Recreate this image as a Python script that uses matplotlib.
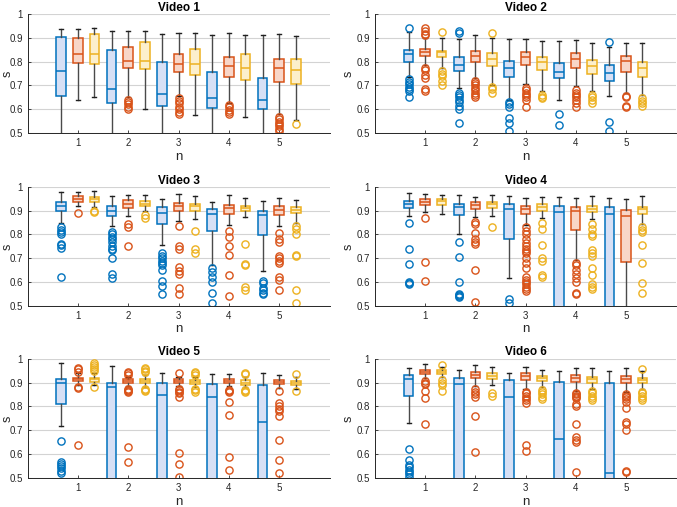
import matplotlib
matplotlib.use('Agg')
import matplotlib.pyplot as plt

plt.rcParams['font.family'] = ['Liberation Sans', 'DejaVu Sans']

# ---------------- data: each box = [whisker_low, q1, median, q3, whisker_high] -------------
n_values = [1, 2, 3, 4, 5]
titles = ['Video 1', 'Video 2', 'Video 3', 'Video 4', 'Video 5', 'Video 6']
ytick_values = [0.5, 0.6, 0.7, 0.8, 0.9, 1.0]
ytick_labels = ['0.5', '0.6', '0.7', '0.8', '0.9', '1']

v1_blue = [[0.45, 0.656, 0.761, 0.905, 0.937], [0.45, 0.624, 0.684, 0.848, 0.930],
           [0.45, 0.612, 0.665, 0.797, 0.915], [0.45, 0.607, 0.647, 0.757, 0.913],
           [0.45, 0.600, 0.637, 0.730, 0.913]]
v1_red = [[0.640, 0.793, 0.830, 0.900, 0.937], [0.650, 0.772, 0.804, 0.863, 0.930],
          [0.656, 0.756, 0.789, 0.831, 0.920], [0.626, 0.737, 0.781, 0.818, 0.920],
          [0.580, 0.714, 0.772, 0.813, 0.916]]
v1_yel = [[0.650, 0.790, 0.830, 0.918, 0.940], [0.600, 0.771, 0.804, 0.884, 0.930],
          [0.577, 0.743, 0.788, 0.855, 0.920], [0.566, 0.723, 0.775, 0.831, 0.913],
          [0.556, 0.705, 0.763, 0.813, 0.908]]
v1_blue_out = [[], [], [], [], []]
v1_red_out = [[], [0.64, 0.63, 0.62, 0.61, 0.60], [0.645, 0.635, 0.625, 0.61, 0.60, 0.59, 0.58],
              [0.618, 0.608, 0.598, 0.588, 0.578], [0.568, 0.558, 0.548, 0.538, 0.528, 0.518, 0.51]]
v1_yel_out = [[], [], [], [], [0.539]]

v2_blue = [[0.735, 0.800, 0.831, 0.850, 0.923], [0.689, 0.761, 0.785, 0.818, 0.894],
           [0.640, 0.737, 0.772, 0.804, 0.894], [0.640, 0.729, 0.757, 0.796, 0.888],
           [0.654, 0.720, 0.753, 0.785, 0.863]]
v2_red = [[0.785, 0.824, 0.840, 0.852, 0.900], [0.730, 0.799, 0.824, 0.845, 0.912],
          [0.705, 0.786, 0.821, 0.839, 0.895], [0.696, 0.775, 0.810, 0.835, 0.890],
          [0.668, 0.758, 0.804, 0.825, 0.880]]
v2_yel = [[0.772, 0.818, 0.840, 0.846, 0.900], [0.703, 0.782, 0.813, 0.838, 0.898],
          [0.675, 0.763, 0.800, 0.821, 0.885], [0.675, 0.749, 0.780, 0.807, 0.880],
          [0.660, 0.735, 0.772, 0.799, 0.877]]
v2_blue_out = [[0.94, 0.725, 0.715, 0.705, 0.695, 0.685, 0.675, 0.652],
               [0.93, 0.919, 0.67, 0.66, 0.65, 0.64, 0.63, 0.615, 0.60, 0.54],
               [0.63, 0.62, 0.61, 0.565, 0.54, 0.51], [0.58, 0.535], [0.884, 0.545, 0.51]]
v2_red_out = [[0.94, 0.93, 0.915, 0.91, 0.775, 0.765, 0.745, 0.73, 0.685, 0.675],
              [0.72, 0.71, 0.70, 0.69, 0.68, 0.67, 0.66, 0.65],
              [0.69, 0.68, 0.67, 0.66, 0.65, 0.64, 0.61],
              [0.68, 0.67, 0.66, 0.65, 0.64, 0.625, 0.61], [0.655, 0.65, 0.615, 0.61]]
v2_yel_out = [[0.926, 0.76, 0.75, 0.74, 0.72, 0.70], [0.92, 0.695, 0.685, 0.668],
              [0.66, 0.65, 0.645], [0.66, 0.65, 0.64, 0.625], [0.645, 0.635, 0.625, 0.615]]

v3_blue = [[0.848, 0.900, 0.920, 0.937, 0.980], [0.834, 0.879, 0.900, 0.918, 0.963],
           [0.756, 0.844, 0.890, 0.914, 0.950], [0.670, 0.813, 0.885, 0.907, 0.937],
           [0.646, 0.796, 0.883, 0.900, 0.940]]
v3_red = [[0.920, 0.937, 0.950, 0.960, 0.980], [0.876, 0.911, 0.930, 0.946, 0.968],
          [0.855, 0.897, 0.918, 0.932, 0.969], [0.840, 0.886, 0.911, 0.925, 0.968],
          [0.834, 0.880, 0.903, 0.918, 0.954]]
v3_yel = [[0.915, 0.937, 0.950, 0.958, 0.985], [0.897, 0.918, 0.930, 0.940, 0.968],
          [0.865, 0.900, 0.918, 0.930, 0.963], [0.873, 0.897, 0.911, 0.920, 0.954],
          [0.848, 0.890, 0.904, 0.915, 0.945]]
v3_blue_out = [[0.83, 0.82, 0.81, 0.80, 0.76, 0.755, 0.745, 0.62],
               [0.81, 0.80, 0.79, 0.78, 0.77, 0.75, 0.74, 0.735, 0.70, 0.635, 0.615],
               [0.72, 0.71, 0.70, 0.69, 0.68, 0.67, 0.65, 0.605, 0.585, 0.55],
               [0.66, 0.64, 0.62, 0.60, 0.555, 0.51],
               [0.605, 0.595, 0.575, 0.565, 0.555, 0.55]]
v3_red_out = [[0.89], [0.845, 0.83, 0.75], [0.835, 0.75, 0.74, 0.665, 0.645, 0.635, 0.575, 0.55],
              [0.815, 0.79, 0.75, 0.715, 0.63, 0.54],
              [0.805, 0.78, 0.77, 0.71, 0.70, 0.69, 0.68, 0.62, 0.61, 0.565]]
v3_yel_out = [[0.898, 0.895], [0.88, 0.87], [0.815, 0.74, 0.72], [0.76, 0.675, 0.67, 0.58, 0.565],
              [0.835, 0.825, 0.80, 0.715, 0.71, 0.565, 0.51]]

v4_blue = [[0.878, 0.912, 0.927, 0.943, 0.975], [0.804, 0.881, 0.915, 0.930, 0.965],
           [0.618, 0.783, 0.906, 0.927, 0.962], [0.35, 0.40, 0.895, 0.922, 0.958],
           [0.35, 0.40, 0.885, 0.916, 0.955]]
v4_red = [[0.895, 0.923, 0.937, 0.950, 0.969], [0.874, 0.906, 0.924, 0.937, 0.958],
          [0.842, 0.888, 0.909, 0.920, 0.955], [0.692, 0.820, 0.899, 0.915, 0.954],
          [0.35, 0.682, 0.877, 0.905, 0.948]]
v4_yel = [[0.888, 0.926, 0.940, 0.950, 0.968], [0.878, 0.912, 0.927, 0.937, 0.968],
          [0.871, 0.899, 0.916, 0.927, 0.958], [0.867, 0.895, 0.909, 0.920, 0.962],
          [0.846, 0.885, 0.908, 0.917, 0.962]]
v4_blue_out = [[0.848, 0.74, 0.675, 0.60, 0.595, 0.59],
               [0.77, 0.705, 0.60, 0.55, 0.545, 0.54, 0.535], [0.53, 0.51], [], []]
v4_red_out = [[0.87, 0.685, 0.605], [0.853, 0.845, 0.805, 0.78, 0.77, 0.76, 0.65, 0.515],
              [0.83, 0.815, 0.80, 0.78, 0.765, 0.75, 0.74, 0.73, 0.72, 0.70, 0.68, 0.66,
               0.62, 0.61, 0.60, 0.59, 0.58, 0.57, 0.56],
              [0.68, 0.67, 0.65, 0.635, 0.615, 0.60, 0.555, 0.55], []]
v4_yel_out = [[], [0.83], [0.848, 0.825, 0.755, 0.70, 0.69, 0.63, 0.62],
              [0.845, 0.825, 0.80, 0.795, 0.735, 0.72, 0.71, 0.66, 0.63, 0.59, 0.58, 0.57],
              [0.83, 0.82, 0.81, 0.755, 0.68, 0.595, 0.555]]

v5_blue = [[0.720, 0.811, 0.900, 0.913, 0.980], [0.35, 0.40, 0.880, 0.900, 0.970],
           [0.35, 0.40, 0.848, 0.897, 0.940], [0.35, 0.40, 0.838, 0.892, 0.937],
           [0.35, 0.40, 0.736, 0.890, 0.940]]
v5_red = [[0.890, 0.906, 0.915, 0.920, 0.940], [0.885, 0.900, 0.908, 0.915, 0.925],
          [0.885, 0.897, 0.906, 0.913, 0.925], [0.885, 0.897, 0.906, 0.913, 0.936],
          [0.876, 0.894, 0.904, 0.910, 0.933]]
v5_yel = [[0.890, 0.904, 0.913, 0.920, 0.940], [0.882, 0.897, 0.906, 0.913, 0.930],
          [0.880, 0.894, 0.902, 0.910, 0.925], [0.880, 0.891, 0.900, 0.910, 0.925],
          [0.874, 0.890, 0.900, 0.908, 0.925]]
v5_blue_out = [[0.655, 0.565, 0.56, 0.55, 0.54, 0.53, 0.52], [], [], [], []]
v5_red_out = [[0.96, 0.955, 0.945, 0.88, 0.878, 0.64],
              [0.945, 0.94, 0.93, 0.875, 0.87, 0.865, 0.86, 0.63, 0.565],
              [0.94, 0.875, 0.87, 0.86, 0.855, 0.84, 0.605, 0.56, 0.505],
              [0.87, 0.865, 0.86, 0.82, 0.765, 0.59, 0.535],
              [0.865, 0.815, 0.80, 0.79, 0.78, 0.76, 0.66, 0.575, 0.52]]
v5_yel_out = [[0.98, 0.975, 0.965, 0.955, 0.95, 0.88], [0.96, 0.955, 0.95, 0.945, 0.875, 0.87, 0.865],
              [0.945, 0.94, 0.93, 0.875, 0.87, 0.86], [0.94, 0.935, 0.87, 0.865, 0.86],
              [0.935, 0.865]]

v6_blue = [[0.732, 0.844, 0.915, 0.930, 0.962], [0.35, 0.40, 0.893, 0.918, 0.954],
           [0.35, 0.40, 0.838, 0.910, 0.940], [0.35, 0.40, 0.662, 0.904, 0.947],
           [0.35, 0.40, 0.522, 0.900, 0.950]]
v6_red = [[0.918, 0.936, 0.945, 0.954, 0.976], [0.885, 0.920, 0.933, 0.944, 0.972],
          [0.875, 0.911, 0.929, 0.941, 0.966], [0.865, 0.904, 0.920, 0.932, 0.962],
          [0.860, 0.897, 0.913, 0.927, 0.962]]
v6_yel = [[0.925, 0.937, 0.945, 0.953, 0.965], [0.890, 0.916, 0.929, 0.939, 0.966],
          [0.883, 0.908, 0.920, 0.929, 0.953], [0.875, 0.900, 0.913, 0.925, 0.960],
          [0.875, 0.900, 0.911, 0.920, 0.950]]
v6_blue_out = [[0.62, 0.575, 0.555, 0.545, 0.535, 0.525, 0.515, 0.505], [], [], [], []]
v6_red_out = [[0.905, 0.90, 0.895, 0.865, 0.835, 0.725], [0.875, 0.86, 0.85, 0.84, 0.76, 0.61],
              [0.86, 0.855, 0.845, 0.835, 0.825, 0.815, 0.64, 0.615],
              [0.855, 0.85, 0.845, 0.84, 0.835, 0.81, 0.80, 0.725, 0.67, 0.66, 0.65, 0.525],
              [0.85, 0.845, 0.84, 0.83, 0.82, 0.795, 0.735, 0.725, 0.70, 0.53, 0.525]]
v6_yel_out = [[0.975, 0.91, 0.90, 0.89, 0.865], [0.855, 0.845], [0.87, 0.86, 0.85, 0.84, 0.83],
              [0.865, 0.855, 0.845, 0.835, 0.825], [0.955, 0.86, 0.855, 0.845, 0.835, 0.825]]

# ---------------- styling ----------------
series_colors = ['#0072BD', '#D95319', '#EDB120']
series_faces = ['#d7e0f5', '#f8d6c8', '#fcefcc']
offsets = [-0.33, 0.0, 0.33]

panels = [
    (v1_blue, v1_red, v1_yel, v1_blue_out, v1_red_out, v1_yel_out),
    (v2_blue, v2_red, v2_yel, v2_blue_out, v2_red_out, v2_yel_out),
    (v3_blue, v3_red, v3_yel, v3_blue_out, v3_red_out, v3_yel_out),
    (v4_blue, v4_red, v4_yel, v4_blue_out, v4_red_out, v4_yel_out),
    (v5_blue, v5_red, v5_yel, v5_blue_out, v5_red_out, v5_yel_out),
    (v6_blue, v6_red, v6_yel, v6_blue_out, v6_red_out, v6_yel_out),
]

W, H = 677, 507
fig = plt.figure(figsize=(W / 100, H / 100), dpi=100)

col_x = [(27.5, 329.5), (375.0, 676.0)]
row_y = [(14.0, 133.0), (187.0, 305.7), (358.7, 478.0)]
ylabel_px = [13.5, 355.0]   # right edge of the rotated y label (pixels)

axis_col = '#262626'

for k, panel in enumerate(panels):
    r, c = divmod(k, 2)
    x0, x1 = col_x[c]
    y0, y1 = row_y[r]
    ax = fig.add_axes([x0 / W, 1 - y1 / H, (x1 - x0) / W, (y1 - y0) / H])
    boxes = panel[:3]
    outs = panel[3:]
    for s in range(3):
        stats = []
        for b, o in zip(boxes[s], outs[s]):
            stats.append(dict(whislo=b[0], q1=b[1], med=b[2], q3=b[3], whishi=b[4], fliers=o))
        ax.bxp(stats, positions=[n + offsets[s] for n in n_values], widths=0.19,
               patch_artist=True, showfliers=True, manage_ticks=False,
               boxprops=dict(facecolor=series_faces[s], edgecolor=series_colors[s], linewidth=1.1),
               medianprops=dict(color=series_colors[s], linewidth=1.1),
               whiskerprops=dict(color='#4a4a4a', linewidth=1.0),
               capprops=dict(color='#202020', linewidth=1.0), capwidths=0.08,
               flierprops=dict(marker='o', markerfacecolor='none',
                               markeredgecolor=series_colors[s], markersize=5.2,
                               markeredgewidth=1.0))
    ax.set_xlim(0, 6)
    ax.set_ylim(0.5, 1.0)
    ax.set_xticks(n_values)
    ax.set_xticklabels([str(n) for n in n_values])
    ax.set_yticks(ytick_values)
    ax.set_yticklabels(ytick_labels)
    ax.yaxis.grid(True, color='#d3d3d3', linewidth=0.8)
    ax.set_axisbelow(True)
    for sp in ['top', 'right']:
        ax.spines[sp].set_visible(False)
    for sp in ['left', 'bottom']:
        ax.spines[sp].set_color(axis_col)
        ax.spines[sp].set_linewidth(0.7)
    ax.tick_params(direction='in', length=2.5, width=0.6, labelsize=7,
                   colors=axis_col, pad=3.5)
    ax.set_title(titles[k], fontsize=8.5, fontweight='bold', pad=2.5, color='#000000')
    ax.set_xlabel('n', fontsize=9.5, labelpad=2, color=axis_col)
    ax.set_ylabel('s', fontsize=9, color=axis_col)
    ax.yaxis.set_label_coords((ylabel_px[c] - x0) / (x1 - x0), 0.5)

fig.savefig('out.png', dpi=100)
